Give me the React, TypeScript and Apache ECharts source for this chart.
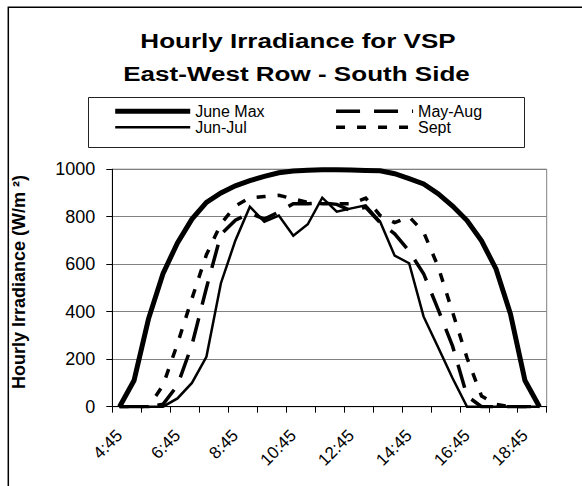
import React, { useEffect, useRef } from "react";
import * as echarts from "echarts";

const times = [
  "4:45", "5:15", "5:45", "6:15", "6:45", "7:15", "7:45", "8:15", "8:45", "9:15",
  "9:45", "10:15", "10:45", "11:15", "11:45", "12:15", "12:45", "13:15", "13:45", "14:15",
  "14:45", "15:15", "15:45", "16:15", "16:45", "17:15", "17:45", "18:15", "18:45", "19:15",
];

const juneMax = [0, 110, 370, 560, 690, 790, 860, 900, 930, 952, 970, 985, 992, 996, 998, 998, 997, 995, 993, 981, 960, 938, 897, 845, 784, 698, 580, 390, 110, 0];
const mayAug = [0, 0, 0, 10, 90, 260, 500, 725, 785, 815, 790, 820, 855, 855, 858, 852, 825, 840, 775, 728, 655, 560, 410, 255, 45, 0, 0, 0, 0, 0];
const junJul = [0, 0, 0, 0, 35, 100, 210, 520, 700, 842, 779, 805, 720, 768, 880, 821, 835, 848, 779, 636, 604, 379, 250, 120, 0, 0, 0, 0, 0, 0];
const sept = [0, 0, 0, 90, 265, 455, 640, 770, 845, 880, 885, 890, 875, 860, 855, 855, 855, 878, 805, 775, 800, 735, 590, 398, 205, 45, 10, 0, 0, 0];

const titleLines = ["Hourly Irradiance for VSP", "East-West Row - South Side"];
const yName = "Hourly Irradiance (W/m \u00B2)";

const FONT = "'Liberation Sans', Arial, sans-serif";

export default function App() {
  const ref = useRef<HTMLDivElement>(null);
  useEffect(() => {
    if (!ref.current) return;
    const chart = echarts.init(ref.current, null, { renderer: "svg" });
    const mk = (name: string, data: number[], width: number, type: any) => ({
      name,
      type: "line",
      data,
      symbol: "none",
      lineStyle: { color: "#000", width, type, cap: "butt", join: "miter" },
      itemStyle: { color: "#000" },
    });
    const legendCommon = {
      orient: "vertical",
      top: 103.3,
      padding: 0,
      itemHeight: 20,
      itemGap: 0,
      lineStyle: { width: "inherit" },
      itemStyle: { opacity: 0, color: "transparent", borderWidth: 0 },
      textStyle: { fontSize: 16, lineHeight: 16, color: "#000", fontFamily: FONT },
    };
    chart.setOption({
      animation: false,
      backgroundColor: "#fff",
      textStyle: { fontFamily: FONT },
      graphic: [
        {
          type: "rect",
          shape: { x: 8.3, y: 7.3, width: 700, height: 700 },
          style: { fill: "none", stroke: "#000", lineWidth: 1.5 },
          silent: true,
        },
        {
          type: "rect",
          shape: { x: 88.5, y: 97.5, width: 436, height: 50 },
          style: { fill: "none", stroke: "#222", lineWidth: 1 },
          silent: true,
        },
        {
          type: "text",
          x: 298,
          y: 40.5,
          scaleX: 1.24,
          style: {
            text: titleLines[0],
            x: 0,
            y: 0,
            textAlign: "center",
            textVerticalAlign: "middle",
            fontSize: 21,
            fontWeight: "bold",
            fontFamily: FONT,
            fill: "#000",
          },
        },
        {
          type: "text",
          x: 296.5,
          y: 73.5,
          scaleX: 1.24,
          style: {
            text: titleLines[1],
            x: 0,
            y: 0,
            textAlign: "center",
            textVerticalAlign: "middle",
            fontSize: 21,
            fontWeight: "bold",
            fontFamily: FONT,
            fill: "#000",
          },
        },
      ],
      legend: [
        {
          ...legendCommon,
          data: ["June Max", "Jun-Jul"],
          left: 112.7,
          itemWidth: 75,
        },
        {
          ...legendCommon,
          data: ["May-Aug", "Sept"],
          left: 334.3,
          itemWidth: 77,
        },
      ],
      grid: {
        left: 112.3,
        right: 35.3,
        top: 169.2,
        bottom: 79.3,
        show: true,
        borderColor: "#808080",
        borderWidth: 1,
        backgroundColor: "transparent",
      },
      xAxis: {
        type: "category",
        data: times,
        boundaryGap: true,
        axisLine: { show: true, lineStyle: { color: "#000", width: 1 } },
        axisTick: { show: true, interval: 1, length: 6, lineStyle: { color: "#000" } },
        axisLabel: {
          interval: 3,
          rotate: 45,
          fontSize: 17,
          color: "#000",
          margin: 26,
          fontFamily: FONT,
        },
        splitLine: { show: false },
      },
      yAxis: {
        type: "value",
        min: 0,
        max: 1000,
        interval: 200,
        axisLine: { show: true, lineStyle: { color: "#000", width: 1 } },
        axisTick: { show: true, length: 6, lineStyle: { color: "#000" } },
        axisLabel: {
          fontSize: 18,
          color: "#000",
          margin: 17,
          fontFamily: FONT,
          formatter: (v: number) => String(v),
        },
        splitLine: { show: true, lineStyle: { color: "#808080", width: 1 } },
        name: yName,
        nameLocation: "middle",
        nameRotate: 90,
        nameGap: 84,
        nameTextStyle: {
          fontSize: 18,
          fontWeight: "bold",
          color: "#000",
          fontFamily: FONT,
          padding: [0, 0, 0, 12],
        },
      },
      series: [
        mk("June Max", juneMax, 5, "solid"),
        mk("May-Aug", mayAug, 3.5, [24, 14]),
        mk("Jun-Jul", junJul, 2.5, "solid"),
        mk("Sept", sept, 3.5, [9, 12]),
      ],
    });
    return () => chart.dispose();
  }, []);
  return (
    <div
      ref={ref}
      style={{ position: "absolute", left: 0, top: 0, width: 582, height: 486 }}
    />
  );
}
